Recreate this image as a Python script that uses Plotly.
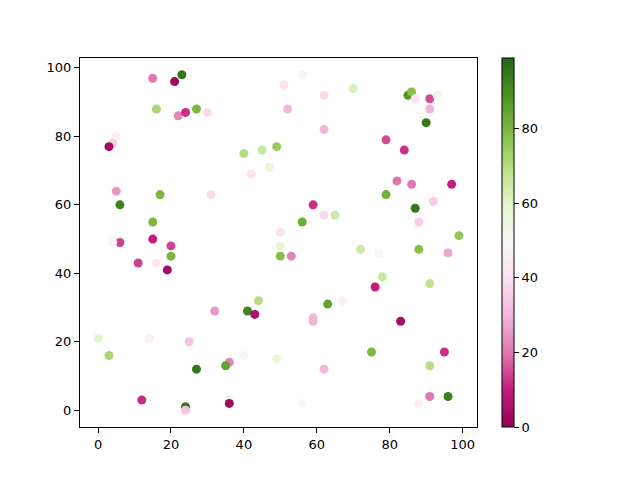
import plotly.graph_objects as go

x_vals = [23, 21, 15, 16, 22, 24, 27, 30, 5, 4, 3, 5, 6, 17, 15, 6, 4, 15, 20, 16,
          11, 20, 19, 31, 40, 45, 49, 47, 42, 51, 56, 52, 62, 70, 62, 85, 86, 87, 91, 93,
          91, 90, 79, 84, 82, 86, 97, 79, 87, 92, 88, 59, 62, 65, 56, 50, 50, 50, 53, 72,
          77, 88, 96, 99, 78, 76, 67, 63, 44, 41, 43, 32, 59, 59, 91, 83, 0, 14, 25, 3,
          40, 49, 36, 35, 27, 62, 75, 91, 95, 12, 24, 24, 36, 36, 56, 88, 91, 96]
y_vals = [98, 96, 97, 88, 86, 87, 88, 87, 80, 78, 77, 64, 60, 63, 55, 49, 49, 50, 48, 43,
          43, 45, 41, 63, 75, 76, 77, 71, 69, 95, 98, 88, 92, 94, 82, 92, 93, 91, 91, 92,
          88, 84, 79, 76, 67, 66, 66, 63, 59, 61, 55, 60, 57, 57, 55, 52, 48, 45, 45, 47,
          46, 47, 46, 51, 39, 36, 32, 31, 32, 29, 28, 29, 27, 26, 37, 26, 21, 21, 20, 16,
          16, 15, 14, 13, 12, 12, 17, 13, 17, 3, 1, 0, 3, 2, 2, 2, 4, 4]
c_vals = [95, 3, 20, 72, 22, 12, 80, 38, 45, 35, 4, 25, 93, 80, 80, 14, 50, 10, 14, 43,
          14, 80, 4, 38, 70, 66, 75, 58, 40, 40, 47, 30, 38, 62, 30, 88, 78, 40, 15, 55,
          30, 95, 15, 12, 20, 20, 10, 82, 95, 35, 35, 12, 38, 65, 82, 40, 58, 78, 22, 65,
          50, 78, 28, 76, 66, 10, 45, 85, 70, 92, 6, 25, 30, 30, 68, 5, 60, 46, 33, 72,
          51, 58, 22, 85, 95, 30, 80, 70, 12, 12, 95, 33, 45, 3, 50, 45, 20, 93]
cbar_ticks = [0, 20, 40, 60, 80]
xticks = [0, 20, 40, 60, 80, 100]
yticks = [0, 20, 40, 60, 80, 100]

fig = go.Figure(go.Scatter(
    x=x_vals, y=y_vals, mode="markers",
    marker=dict(
        size=9, color=c_vals, colorscale="PiYG", cmin=0, cmax=99,
        line=dict(width=0),
        colorbar=dict(
            x=1.063, xanchor="left", xref="paper", y=0, yanchor="bottom", yref="paper",
            len=1, lenmode="fraction", thickness=12, thicknessmode="pixels",
            xpad=0, ypad=0,
            tickvals=cbar_ticks, ticks="outside", ticklen=5, tickcolor="black",
            outlinewidth=1, outlinecolor="black",
            tickfont=dict(family="DejaVu Sans", size=13, color="black"),
        ),
    ),
    showlegend=False,
))

axis_common = dict(
    showgrid=False, zeroline=False, showline=True, linecolor="black", linewidth=1,
    mirror=True, ticks="outside", ticklen=5, tickcolor="black",
    tickfont=dict(family="DejaVu Sans", size=13, color="black"),
)
fig.update_xaxes(range=[-4.95, 103.95], tickvals=xticks, **axis_common)
fig.update_yaxes(range=[-4.9, 102.9], tickvals=yticks, **axis_common)

fig.update_layout(
    width=640, height=480,
    margin=dict(l=72, r=171, t=50, b=61, autoexpand=False),
    paper_bgcolor="white", plot_bgcolor="white",
    font=dict(family="DejaVu Sans", size=13, color="black"),
)

fig.write_html("out.html")
